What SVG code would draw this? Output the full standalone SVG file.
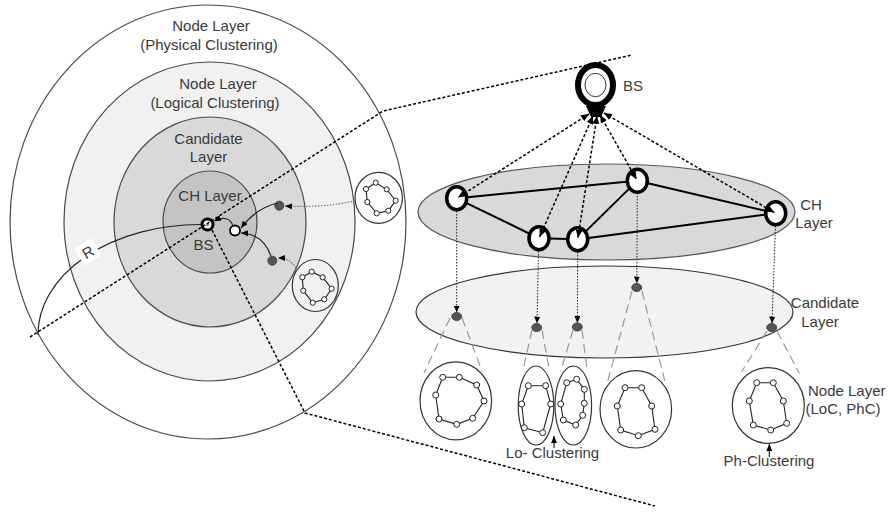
<svg xmlns="http://www.w3.org/2000/svg" width="888" height="514" viewBox="0 0 888 514">
  <defs>
    <marker id="arr" viewBox="0 0 8 7" refX="8" refY="3.5" markerWidth="8" markerHeight="7" markerUnits="userSpaceOnUse" orient="auto-start-reverse">
      <path d="M0,0 L8,3.5 L0,7 z" fill="#000"/>
    </marker>
    <marker id="arr-s" viewBox="0 0 7 6" refX="7" refY="3" markerWidth="7" markerHeight="6" markerUnits="userSpaceOnUse" orient="auto-start-reverse">
      <path d="M0,0 L7,3 L0,6 z" fill="#000"/>
    </marker>
    <style>
      text { font-family: "Liberation Sans", Arial, sans-serif; fill: #3a3a3a; font-size: 15px; }
      .mid { text-anchor: middle; }
      .zone { stroke: #4a4a4a; stroke-width: 1.2; }
      .clu { fill: none; stroke: #333; stroke-width: 1.2; }
      .poly { fill: none; stroke: #222; stroke-width: 1.1; }
      .sn { fill: #fff; stroke: #222; stroke-width: 1; }
      .ch { fill: #fff; stroke: #000; stroke-width: 3.5; }
      .cand { fill: #555; stroke: #333; stroke-width: 0.8; }
      .dash { fill: none; stroke: #000; stroke-width: 1.5; stroke-dasharray: 3 2; }
      .dot { fill: none; stroke: #222; stroke-width: 1; stroke-dasharray: 1.5 1.5; }
      .gdot { fill: none; stroke: #777; stroke-width: 1.2; stroke-dasharray: 1.5 1.5; }
      .cone { fill: none; stroke: #999; stroke-width: 1.2; stroke-dasharray: 9 5; }
      .solid { fill: none; stroke: #222; stroke-width: 1.2; }
      .edge { fill: none; stroke: #000; stroke-width: 2; }
    </style>
  </defs>

  <rect width="888" height="514" fill="#fff"/>

  <!-- concentric layer view -->
  <g id="layer-physical">
    <ellipse class="zone" cx="208" cy="222" rx="198" ry="217" fill="#fff"/>
    <text class="mid" x="211" y="31">Node Layer</text>
    <text class="mid" x="209" y="50">(Physical Clustering)</text>
  </g>
  <g id="layer-logical">
    <ellipse class="zone" cx="209.5" cy="221.5" rx="145.5" ry="159.5" fill="#f1f1f1"/>
    <text class="mid" x="218" y="89">Node Layer</text>
    <text class="mid" x="215" y="108">(Logical Clustering)</text>
  </g>
  <g id="layer-candidate">
    <ellipse class="zone" cx="210" cy="222" rx="96" ry="105" fill="#d9d9d9"/>
    <text class="mid" x="208.5" y="144">Candidate</text>
    <text class="mid" x="208.5" y="162">Layer</text>
  </g>
  <g id="layer-ch">
    <ellipse class="zone" cx="210" cy="222" rx="47" ry="51" fill="#c4c4c4"/>
    <text class="mid" x="210" y="201">CH Layer</text>
  </g>

  <!-- right-hand stacked view: layer bands -->
  <g id="band-ch">
    <ellipse cx="606.5" cy="212" rx="188.5" ry="48" fill="#d9d9d9" stroke="#555" stroke-width="1.2"/>
    <text class="mid" x="811" y="210">CH</text>
    <text class="mid" x="814" y="228">Layer</text>
  </g>
  <g id="band-candidate">
    <ellipse cx="604.5" cy="312" rx="188.5" ry="46" fill="#f2f2f2" stroke="#333" stroke-width="1.2"/>
    <text class="mid" x="825" y="308">Candidate</text>
    <text class="mid" x="820" y="327">Layer</text>
  </g>

  <!-- radius marker -->
  <g id="radius">
    <path class="solid" d="M 201 224.5 A 162 110 0 0 0 38 335" stroke="#444"/>
    <g transform="translate(88 252) rotate(-30)">
      <rect x="-10" y="-10" width="20" height="20" fill="#fff"/>
      <text class="mid" x="0" y="5.5" font-size="14">R</text>
    </g>
  </g>

  <!-- base station, left view -->
  <g id="bs-left">
    <circle cx="207.5" cy="224.5" r="5.5" fill="#fff" stroke="#000" stroke-width="3"/>
    <circle cx="207.5" cy="224.5" r="1.6" fill="#888"/>
    <text class="mid" x="203.5" y="250">BS</text>
  </g>

  <!-- nodes in the left view -->
  <g id="head-w"><circle cx="235" cy="230.5" r="5" fill="#fff" stroke="#000" stroke-width="1.8"/></g>
  <g id="cand-d1"><circle cx="279.3" cy="205.7" r="4.5" fill="#555" stroke="#333" stroke-width="0.8"/></g>
  <g id="cand-d2"><circle cx="272.3" cy="260.7" r="4.5" fill="#555" stroke="#333" stroke-width="0.8"/></g>

  <g id="cluster-a">
    <ellipse class="clu" cx="378.7" cy="197.8" rx="23.7" ry="25.5"/>
    <polygon class="poly" points="366,189 375.7,182.7 386.7,189.3 395.7,200.7 388.3,210.7 376.7,213.3 367.3,202"/>
    <g class="sn">
      <circle cx="366" cy="189" r="2.6"/><circle cx="375.7" cy="182.7" r="2.6"/><circle cx="386.7" cy="189.3" r="2.6"/>
      <circle cx="395.7" cy="200.7" r="2.6"/><circle cx="388.3" cy="210.7" r="2.6"/><circle cx="376.7" cy="213.3" r="2.6"/>
      <circle cx="367.3" cy="202" r="2.6"/>
    </g>
  </g>
  <g id="cluster-b">
    <ellipse class="clu" cx="315.3" cy="285.5" rx="23" ry="26"/>
    <polygon class="poly" points="302.3,277.3 311.7,271.7 322.7,277.3 331.7,288.7 324.3,299.3 312.7,302.7 303.3,290.7"/>
    <g class="sn">
      <circle cx="302.3" cy="277.3" r="2.6"/><circle cx="311.7" cy="271.7" r="2.6"/><circle cx="322.7" cy="277.3" r="2.6"/>
      <circle cx="331.7" cy="288.7" r="2.6"/><circle cx="324.3" cy="299.3" r="2.6"/><circle cx="312.7" cy="302.7" r="2.6"/>
      <circle cx="303.3" cy="290.7" r="2.6"/>
    </g>
  </g>

  <!-- base station, stacked view -->
  <g id="bs-right">
    <ellipse cx="595.5" cy="85" rx="17.5" ry="20" fill="#fff" stroke="#000" stroke-width="6"/>
    <ellipse cx="595.5" cy="85" rx="10.5" ry="11.7" fill="none" stroke="#333" stroke-width="1"/>
    <polygon points="586,106 606,106 601,117 591,117" fill="#000"/>
    <text x="623" y="91">BS</text>
  </g>

  <!-- cluster heads -->
  <g id="ch1"><ellipse class="ch" cx="456.7" cy="198.3" rx="10" ry="11.5"/></g>
  <g id="ch2"><ellipse class="ch" cx="637.3" cy="180.7" rx="10" ry="11.5"/></g>
  <g id="ch3"><ellipse class="ch" cx="539" cy="238.3" rx="10" ry="11.5"/></g>
  <g id="ch4"><ellipse class="ch" cx="577.7" cy="239.3" rx="10" ry="11.5"/></g>
  <g id="ch5"><ellipse class="ch" cx="775.7" cy="213.3" rx="10" ry="11.5"/></g>

  <!-- candidates -->
  <g id="cand1"><ellipse class="cand" cx="456.7" cy="316.5" rx="5" ry="4"/></g>
  <g id="cand2"><ellipse class="cand" cx="536.7" cy="327.5" rx="5" ry="4"/></g>
  <g id="cand3"><ellipse class="cand" cx="577.3" cy="327" rx="5" ry="4"/></g>
  <g id="cand4"><ellipse class="cand" cx="636.7" cy="287.5" rx="5" ry="4"/></g>
  <g id="cand5"><ellipse class="cand" cx="771.7" cy="327.5" rx="5" ry="4"/></g>

  <!-- member clusters -->
  <g id="cluster-1">
    <ellipse class="clu" cx="455.8" cy="400.8" rx="35.8" ry="39"/>
    <polygon class="poly" points="442.7,377.3 459.3,377.3 476.7,385 484,401 472.7,418.3 456.7,424.3 439,419 435.7,395"/>
    <g class="sn">
      <circle cx="442.7" cy="377.3" r="3"/><circle cx="459.3" cy="377.3" r="3"/><circle cx="476.7" cy="385" r="3"/>
      <circle cx="484" cy="401" r="3"/><circle cx="472.7" cy="418.3" r="3"/><circle cx="456.7" cy="424.3" r="3"/>
      <circle cx="439" cy="419" r="3"/><circle cx="435.7" cy="395" r="3"/>
    </g>
  </g>
  <g id="cluster-2a">
    <ellipse class="clu" cx="536" cy="405.5" rx="17.8" ry="39.5"/>
    <polygon class="poly" points="528.3,385.7 545.7,385.7 550.7,404 542.7,432.7 524.3,427.7 521.7,404"/>
    <g class="sn">
      <circle cx="528.3" cy="385.7" r="3"/><circle cx="545.7" cy="385.7" r="3"/><circle cx="550.7" cy="404" r="3"/>
      <circle cx="542.7" cy="432.7" r="3"/><circle cx="524.3" cy="427.7" r="3"/><circle cx="521.7" cy="404" r="3"/>
    </g>
  </g>
  <g id="cluster-2b">
    <ellipse class="clu" cx="573.3" cy="405.5" rx="18.3" ry="39.5"/>
    <polygon class="poly" points="576.7,379.3 584.3,389.3 584.3,403.3 582.7,415.3 575.7,425 563.3,420 560.7,404 566.7,382.7"/>
    <g class="sn">
      <circle cx="576.7" cy="379.3" r="3"/><circle cx="584.3" cy="389.3" r="3"/><circle cx="584.3" cy="403.3" r="3"/>
      <circle cx="582.7" cy="415.3" r="3"/><circle cx="575.7" cy="425" r="3"/><circle cx="563.3" cy="420" r="3"/>
      <circle cx="560.7" cy="404" r="3"/><circle cx="566.7" cy="382.7" r="3"/>
    </g>
  </g>
  <g id="cluster-4">
    <ellipse class="clu" cx="635.8" cy="409.3" rx="35.8" ry="38.7"/>
    <polygon class="poly" points="625,387.7 641.7,387.7 651.7,406 655,429.3 638.3,435.7 620.7,430 617.3,406"/>
    <g class="sn">
      <circle cx="625" cy="387.7" r="3"/><circle cx="641.7" cy="387.7" r="3"/><circle cx="651.7" cy="406" r="3"/>
      <circle cx="655" cy="429.3" r="3"/><circle cx="638.3" cy="435.7" r="3"/><circle cx="620.7" cy="430" r="3"/>
      <circle cx="617.3" cy="406" r="3"/>
    </g>
  </g>
  <g id="cluster-5">
    <ellipse class="clu" cx="768.3" cy="405.5" rx="36" ry="37.8"/>
    <polygon class="poly" points="756.7,382.7 773.3,382.7 783.3,401 786.7,423.3 770.7,430 753.3,425 749.3,401"/>
    <g class="sn">
      <circle cx="756.7" cy="382.7" r="3"/><circle cx="773.3" cy="382.7" r="3"/><circle cx="783.3" cy="401" r="3"/>
      <circle cx="786.7" cy="423.3" r="3"/><circle cx="770.7" cy="430" r="3"/><circle cx="753.3" cy="425" r="3"/>
      <circle cx="749.3" cy="401" r="3"/>
    </g>
    <text x="808" y="396">Node Layer</text>
    <text x="805.5" y="414">(LoC, PhC)</text>
  </g>

  <g id="labels">
    <text class="mid" x="552.5" y="458">Lo- Clustering</text>
    <text class="mid" x="769" y="466">Ph-Clustering</text>
  </g>

  <g id="connectors">
    <!-- projection lines between the two views -->
    <polyline class="dash" points="30,337 383,111 632,55"/>
    <polyline class="dash" points="212,230 305,413 655,506"/>

    <!-- left view links -->
    <path class="gdot" d="M 355 201 Q 322 208 285 206" marker-end="url(#arr-s)"/>
    <path class="gdot" d="M 296 268 Q 290 258 278 258" marker-end="url(#arr-s)"/>
    <path class="solid" d="M 278 203 Q 256 208 241 228" marker-end="url(#arr-s)"/>
    <path class="solid" d="M 271 256 Q 263 234 241 233" marker-end="url(#arr-s)"/>
    <path class="solid" d="M 233 226 Q 229 214 214 221" marker-end="url(#arr-s)"/>

    <!-- BS to cluster heads -->
    <line class="dash" x1="589" y1="114" x2="458" y2="197.5" marker-start="url(#arr)" marker-end="url(#arr)"/>
    <line class="dash" x1="593" y1="116" x2="539.6" y2="236.9" marker-start="url(#arr)" marker-end="url(#arr)"/>
    <line class="dash" x1="597" y1="116" x2="577.9" y2="237.8" marker-start="url(#arr)" marker-end="url(#arr)"/>
    <line class="dash" x1="600" y1="115" x2="636.6" y2="179.4" marker-start="url(#arr)" marker-end="url(#arr)"/>
    <line class="dash" x1="604" y1="113" x2="774.4" y2="212.5" marker-start="url(#arr)" marker-end="url(#arr)"/>

    <!-- cluster-head links -->
    <line class="edge" x1="467.6" y1="197.2" x2="626.4" y2="181.8"/>
    <line class="edge" x1="466.6" y1="203.1" x2="529.1" y2="233.5"/>
    <line class="edge" x1="550" y1="238.6" x2="566.7" y2="239"/>
    <line class="edge" x1="585.5" y1="231.6" x2="629.5" y2="188.4"/>
    <line class="edge" x1="588.6" y1="237.9" x2="764.8" y2="214.7"/>
    <line class="edge" x1="648" y1="183.2" x2="765" y2="210.8"/>

    <!-- cluster head to candidate -->
    <line class="dot" x1="456.7" y1="211" x2="456.7" y2="312.5" marker-end="url(#arr-s)"/>
    <line class="dot" x1="538.5" y1="251" x2="537" y2="323.5" marker-end="url(#arr-s)"/>
    <line class="dot" x1="577.7" y1="252" x2="577.4" y2="323" marker-end="url(#arr-s)"/>
    <line class="dot" x1="637.3" y1="193" x2="636.8" y2="283.5" marker-end="url(#arr-s)"/>
    <line class="dot" x1="775.5" y1="226" x2="772" y2="323.5" marker-end="url(#arr-s)"/>

    <!-- candidate to member cluster -->
    <line class="cone" x1="450" y1="318" x2="424" y2="373"/>
    <line class="cone" x1="462" y1="318" x2="482" y2="371"/>
    <line class="cone" x1="532" y1="330" x2="523" y2="370"/>
    <line class="cone" x1="542" y1="330" x2="549" y2="368"/>
    <line class="cone" x1="573" y1="330" x2="561.7" y2="368"/>
    <line class="cone" x1="582" y1="330" x2="586.7" y2="367"/>
    <line class="cone" x1="632" y1="291" x2="606.7" y2="385"/>
    <line class="cone" x1="642" y1="291" x2="665" y2="381.7"/>
    <line class="cone" x1="767" y1="331" x2="741.7" y2="371.7"/>
    <line class="cone" x1="777" y1="331" x2="799.3" y2="373.3"/>

    <!-- label pointers -->
    <line class="solid" x1="554" y1="448" x2="554" y2="436" marker-end="url(#arr-s)"/>
    <line class="solid" x1="769.3" y1="457" x2="769.3" y2="444" marker-end="url(#arr-s)"/>
  </g>
</svg>
